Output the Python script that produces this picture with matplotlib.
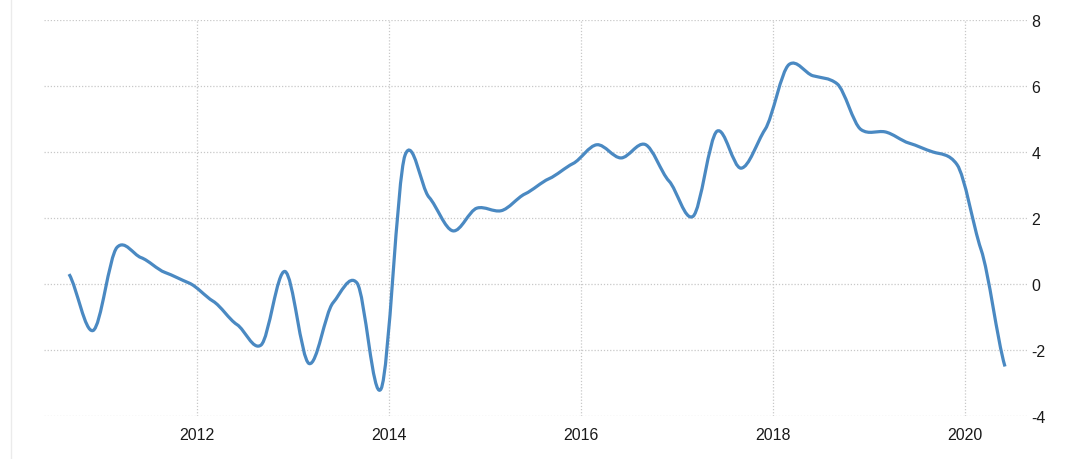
import numpy as np
import matplotlib
matplotlib.use("Agg")
import matplotlib.pyplot as plt
from matplotlib.path import Path
from matplotlib.patches import PathPatch
from matplotlib.lines import Line2D

# Quarterly values, Q3 2010 .. Q2 2020
values = [0.30, -1.41, 1.11, 0.80, 0.35, 0.03, -0.52, -1.23, -1.85, 0.38,
          -2.41, -0.57, 0.03, -3.18, 3.90, 2.63, 1.61, 2.30, 2.22, 2.73,
          3.19, 3.65, 4.22, 3.82, 4.23, 3.12, 2.05, 4.63, 3.51, 4.68,
          6.65, 6.31, 6.07, 4.68, 4.61, 4.27, 4.00, 3.62, 1.05, -2.50]
start_year = 2010 + 8 / 12
years = [start_year + 0.25 * i for i in range(len(values))]
x_ticks = [2012, 2014, 2016, 2018, 2020]
x_tick_labels = ["2012", "2014", "2016", "2018", "2020"]
y_ticks = [-4, -2, 0, 2, 4, 6, 8]
y_tick_labels = ["-4", "-2", "0", "2", "4", "6", "8"]

LINE = "#4a89c2"
GRID = "#c8c8c8"
TEXT = "#1a1a1a"

fig = plt.figure(figsize=(10.72, 4.60), dpi=100)
ax = fig.add_axes([44 / 1072, 43 / 460, (1027 - 44) / 1072, (417 - 21) / 460])

x = np.asarray(years)
y = np.asarray(values)
n = len(x)
k = 0.7  # tangent scale (cardinal spline)
m = np.zeros(n)
for i in range(n):
    if i == 0:
        m[i] = (y[1] - y[0]) * k
    elif i == n - 1:
        m[i] = (y[-1] - y[-2]) * k
    else:
        m[i] = (y[i + 1] - y[i - 1]) / 2 * k
verts = [(x[0], y[0])]
codes = [Path.MOVETO]
for i in range(n - 1):
    dx = x[i + 1] - x[i]
    verts += [(x[i] + dx / 3, y[i] + m[i] / 3),
              (x[i + 1] - dx / 3, y[i + 1] - m[i + 1] / 3),
              (x[i + 1], y[i + 1])]
    codes += [Path.CURVE4] * 3
ax.add_patch(PathPatch(Path(verts, codes), facecolor="none", edgecolor=LINE,
                       lw=2.3, capstyle="butt", joinstyle="round", zorder=3))

ax.set_xlim(2010.406, 2020.646)
ax.set_ylim(-4, 8)
ax.set_xticks(x_ticks)
ax.set_xticklabels(x_tick_labels)
ax.set_yticks(y_ticks)
ax.set_yticklabels(y_tick_labels)
ax.yaxis.tick_right()
ax.tick_params(axis="both", length=0, labelsize=11.5, labelcolor=TEXT)
ax.tick_params(axis="x", pad=8)
ax.tick_params(axis="y", pad=3)
for lab in ax.get_xticklabels() + ax.get_yticklabels():
    lab.set_fontfamily("Liberation Sans")
ax.grid(True, color=GRID, linestyle=(0, (1, 1.5)), linewidth=0.9)
ax.set_axisbelow(True)
for s in ax.spines.values():
    s.set_visible(False)

fig.add_artist(Line2D([11 / 1072, 11 / 1072], [0, 1], transform=fig.transFigure,
                      color="#ebebeb", lw=1))

fig.savefig("out.png", dpi=100)
